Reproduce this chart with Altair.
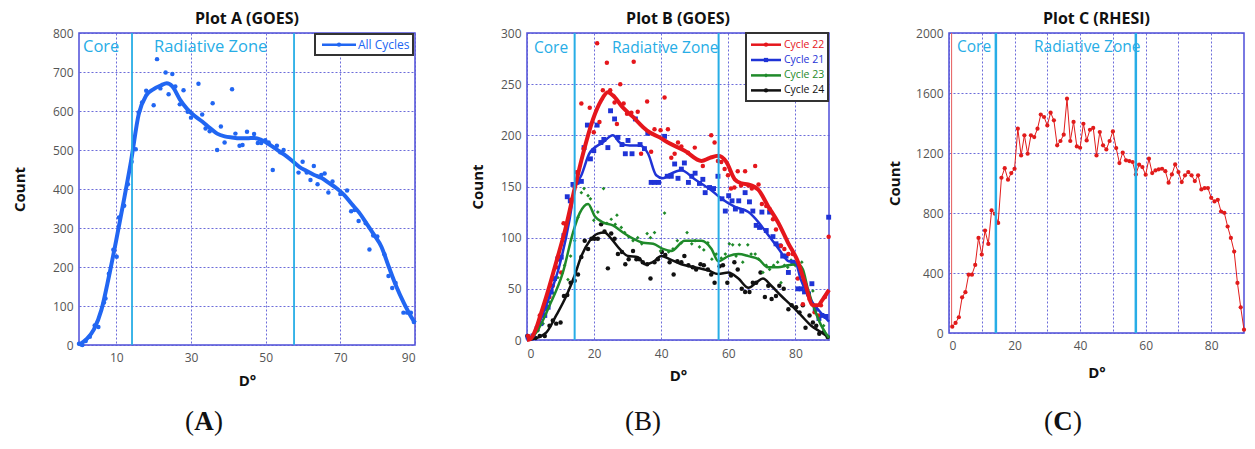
import altair as alt
import pandas as pd

FONT = "Open Sans"
SERIF = "Liberation Serif"
GRID = "#5c5cd6"
FRAME = "#4d4dd9"
CYAN = "#27ade6"
LABEL = "#555555"
DARK = "#111111"

# ---------------- data ----------------
zones_a = [14.2, 57.6]
zones_b = [14.2, 57.1]
zones_c = [14.3, 57.0]

a_points = [(0, 3), (0.9, 0), (1.8, 10), (2.9, 21), (4.2, 50), (5.2, 46), (6.7, 109), (7.1, 119), (8, 183),
            (9.2, 244), (10.1, 226), (10.7, 327), (12.1, 357), (13.1, 412), (14.1, 470), (15.2, 502), (16, 596),
            (16.9, 622), (18, 652), (20, 615), (20.9, 733), (21.8, 658), (23.2, 699), (24, 643), (25, 695),
            (25.8, 663), (27, 617), (28, 653), (29.1, 598), (30, 583), (32, 670), (33, 591), (33.9, 555),
            (35, 548), (35.8, 620), (37, 500), (38, 560), (39, 519), (41, 656), (41.9, 542), (43, 511),
            (43.8, 513), (45, 547), (46.9, 541), (47.9, 518), (48.8, 518), (49.9, 525), (50.8, 519), (51.9, 449),
            (53, 511), (53.9, 494), (54.8, 500), (58.8, 442), (59.9, 470), (61, 442), (62, 423), (62.9, 459),
            (63.9, 412), (64.9, 436), (65.8, 440), (66.8, 391), (67.9, 419), (70, 387), (71.8, 396), (72.9, 343),
            (73.8, 346), (74.9, 318), (76.8, 312), (77.8, 245), (78.8, 281), (79.9, 278), (81.8, 233), (82.9, 177),
            (83.9, 146), (84.8, 159), (86.9, 83), (87.9, 83), (88.9, 83), (89.7, 59)]
a_curve = [(0, 0), (2, 15), (4, 40), (6, 90), (8, 175), (10, 270), (12, 370), (14, 475), (16, 592), (18, 640),
           (20, 656), (22, 666), (23.5, 671), (25, 663), (27, 630), (29, 605), (31, 587), (33, 573), (35, 557),
           (37, 542), (39, 535), (41, 532), (43, 530), (45, 530), (47, 531), (49, 525), (51, 514), (53, 501),
           (55, 488), (57, 473), (59, 457), (61, 446), (63, 436), (65, 428), (67, 415), (69, 402), (71, 385),
           (73, 362), (75, 340), (77, 312), (79, 283), (81, 252), (83, 200), (85, 150), (87, 108), (89, 72), (90, 57)]

b_red_curve = [(0, 0), (1, 1), (2.8, 12), (3.8, 22), (6, 45), (8.7, 76), (11.7, 112), (14.2, 148), (16.7, 182),
               (19.7, 216), (22.1, 234), (24.1, 242), (25.6, 239), (28.6, 227), (31.6, 218), (34.6, 208),
               (36.5, 203), (39.5, 198), (42, 193), (47, 185), (52, 175), (54.5, 178), (57, 180), (59.4, 174),
               (61.9, 157), (64, 153), (65.9, 152), (68.9, 147), (71.8, 131), (74.8, 115), (77.8, 95), (80.8, 76),
               (82.8, 56), (85.2, 34), (86.7, 34), (88.2, 40), (90, 49)]
b_blue_curve = [(0, 0), (1, 1), (2.8, 11), (6.75, 43), (9.7, 73), (12.7, 118), (14.2, 148), (16.2, 161),
                (18.7, 183), (22.6, 193), (25.6, 200), (27.6, 193), (30.6, 190), (33.6, 190), (36.1, 182),
                (38.5, 161), (40.5, 158), (42.5, 162), (46, 166), (50, 157), (55, 146), (58, 138), (62, 130),
                (66, 125), (69, 115), (72, 102), (75, 89), (78, 77), (80, 76), (81.5, 60), (84, 42), (86.7, 30),
                (90, 18)]
b_green_curve = [(0, 0), (1, 1), (2.8, 7.5), (6.75, 34), (10.7, 66), (13.7, 105), (15.7, 124), (18.2, 133),
                 (20.2, 121), (22.6, 115), (25.6, 112), (28.6, 105), (31.6, 99), (34.6, 95), (37.6, 94),
                 (40.5, 89), (43, 87), (47, 97), (52, 97), (55, 89), (57, 77), (60, 82), (63, 84), (66, 82),
                 (69, 79), (71.8, 71), (74.8, 71), (77.8, 73), (80.8, 74), (82.2, 69), (83.7, 50), (85.7, 30),
                 (87.7, 14), (90, 2)]
b_black_curve = [(0, 0), (1.8, 1), (5.8, 7.5), (8.7, 24), (11.7, 43), (14.2, 63), (16.2, 82), (18.7, 97),
                 (21.1, 104), (23.1, 105), (25.1, 99), (27.6, 89), (30.1, 82), (33.1, 81), (35.1, 74), (37.5, 76),
                 (40, 82), (42.5, 79), (46, 74), (50, 71), (54, 68), (57, 64.5), (60, 66), (63, 60), (66, 51),
                 (68.3, 56), (70.3, 60), (72.8, 53), (75.8, 43), (78.7, 34), (81.7, 24), (84.7, 14), (87.7, 7.5),
                 (90, 2)]

b_red_pts = [(0.3, 4), (3.8, 24), (6.7, 42), (7.7, 53), (8.7, 71), (9.2, 81), (10.2, 66), (10.9, 114), (11.7, 112),
             (13.2, 137), (14.7, 164), (16.2, 231), (16.9, 187), (18.7, 227), (19.9, 203), (20.9, 290), (21.6, 213),
             (22.6, 244), (23.8, 271), (24.8, 244), (26.1, 232), (26.8, 211), (27.8, 250), (28.8, 231), (29.8, 221),
             (31.1, 222), (31.8, 272), (33, 223), (34, 182), (35.8, 233), (37, 184), (38, 206), (39.8, 205),
             (41, 237), (42, 206), (43, 178), (44, 182), (45, 193), (46, 189), (48, 183), (50, 188), (52.4, 170),
             (54.9, 200), (55.9, 193), (56.9, 175), (57.9, 174), (58.9, 167), (59.9, 161), (60.8, 148), (61.8, 149),
             (62.8, 165), (63.8, 151), (65, 165), (66, 151), (67, 148), (68, 170), (69, 152), (70, 133), (71.3, 131),
             (72.3, 128), (73.3, 118), (74.2, 108), (75.7, 92), (76.7, 89), (77.9, 84), (79.2, 84), (80.7, 60),
             (82.2, 35), (84.2, 40), (85.7, 27), (86.7, 24), (87.6, 34), (88.8, 42), (89.9, 101)]
b_blue_pts = [(0.3, 3), (1.8, 4), (3, 11), (4.1, 16), (5.3, 24), (6.3, 32), (7.2, 47), (8.2, 60), (9.2, 79),
              (10.2, 81), (11, 102), (12, 140), (12.9, 136), (13.7, 152), (14.9, 154), (16.2, 155), (17, 188),
              (18, 210), (18.9, 177), (19.9, 185), (20.9, 210), (22, 193), (22.9, 196), (24.1, 188), (24.9, 224),
              (26.1, 216), (27.1, 198), (28.3, 191), (29.3, 182), (30.1, 195), (31.3, 182), (32.3, 216), (33.7, 191),
              (35, 187), (36, 202), (37, 154), (38, 154), (39.2, 154), (41, 199), (41.8, 160), (43, 160), (44, 172),
              (45, 158), (46, 167), (46.9, 173), (48.1, 154), (49.1, 160), (50.1, 163), (51.4, 153), (52.4, 157),
              (53.1, 144), (54.4, 149), (55.6, 148), (56.9, 160), (58.1, 138), (59.1, 126), (60.1, 141), (61.1, 136),
              (62.1, 128), (63.1, 136), (64, 126), (65, 144), (66.3, 135), (67.3, 126), (68.3, 112), (69.3, 110),
              (70, 125), (71.3, 107), (72.3, 125), (73.3, 101), (74.2, 94), (75.2, 92), (76.2, 82), (77.2, 82),
              (77.9, 66), (79.2, 76), (80.7, 50), (81.7, 50), (82.7, 47), (83.9, 45), (84.9, 55), (85.9, 30),
              (87, 21), (87.9, 24), (89.1, 23), (89.9, 120)]
b_green_pts = [(0.3, 3), (1.8, 4), (3.3, 9), (4.8, 16), (5.8, 29), (6.7, 37), (7.7, 46), (9.2, 61), (10.4, 65),
               (11.2, 73), (12.2, 59), (13, 82), (14.2, 97), (15.2, 120), (16.2, 144), (17, 148), (18.2, 141),
               (18.9, 138), (19.9, 117), (21.1, 125), (22.8, 148), (23.8, 114), (25.1, 118), (26.3, 113), (26.8, 122),
               (28.1, 110), (29.1, 105), (30.3, 101), (31.6, 97), (33, 100), (34.2, 94), (35.8, 104), (36.8, 100),
               (38, 105), (39.8, 87), (41, 124), (42.2, 86), (43.5, 89), (44.8, 97), (46, 95), (47.7, 105), (49.1, 94),
               (50.1, 97), (51.4, 91), (52.7, 88), (53.9, 95), (55.1, 79), (56.4, 84), (57.9, 80), (59.1, 84),
               (60.3, 94), (61.3, 93), (62.3, 82), (63.3, 93), (64.3, 76), (65.8, 93), (66.8, 84), (68, 84), (69, 79),
               (70.3, 66), (71.3, 73), (72.3, 69), (73.5, 73), (74.7, 76), (75.7, 56), (76.7, 73), (77.7, 71),
               (78.7, 78), (79.9, 73), (80.9, 74), (81.9, 76), (82.9, 52), (84.2, 42), (85.2, 48), (86.2, 30),
               (87.1, 24), (88.4, 14), (89.6, 4)]
b_black_pts = [(0.1, 4), (1.3, 2), (2.5, 2), (3.8, 4), (5.3, 4), (6.7, 14), (7.7, 19), (8.7, 16), (10, 17),
               (11, 43), (12, 44), (13, 56), (14.2, 58), (15.2, 64), (16.2, 81), (17.2, 97), (18.2, 89), (19.2, 99),
               (20.1, 99), (21.1, 99), (22.1, 113), (23.1, 106), (24.1, 70), (25.1, 104), (26.1, 99), (27.1, 84),
               (28.3, 86), (29.3, 74), (30.3, 79), (31.6, 87), (32.6, 79), (33.5, 79), (34.5, 76), (35.8, 74),
               (36.8, 60), (38, 76), (39, 79), (40.2, 86), (41.2, 83), (42.5, 76), (43.7, 64), (44.8, 77), (46, 76),
               (46.9, 82), (48.1, 73), (49.4, 71), (50.4, 69), (51.7, 74), (52.7, 73), (53.9, 69), (54.9, 64),
               (55.9, 56), (57.4, 72), (58.4, 73), (59.7, 56), (60.8, 63), (61.8, 76), (62.8, 69), (64, 50), (65, 47),
               (66.3, 47), (67.3, 56), (68.3, 56), (69.6, 66), (70.9, 42), (71.9, 53), (72.9, 40), (74.2, 43),
               (75.2, 53), (76.5, 50), (77.9, 30), (78.9, 34), (80.2, 32), (81.2, 27), (82.2, 34), (83, 12),
               (84.2, 24), (85.2, 17), (86.2, 14), (87.1, 6), (88.4, 7.5), (89.6, 3)]

c_deg = list(range(1, 91))
c_count = [42, 67, 105, 238, 272, 389, 389, 454, 634, 523, 683, 594, 817, 795, 734, 1035, 1099, 1022, 1066, 1095,
           1362, 1184, 1318, 1195, 1318, 1306, 1362, 1456, 1440, 1384, 1469, 1418, 1251, 1280, 1322, 1562, 1280,
           1407, 1244, 1235, 1395, 1284, 1355, 1367, 1184, 1340, 1251, 1224, 1280, 1344, 1233, 1133, 1202, 1151,
           1146, 1140, 1057, 1122, 1106, 1055, 1162, 1066, 1084, 1091, 1095, 1079, 1002, 1057, 1124, 1073, 1006,
           1051, 1073, 1051, 1013, 1051, 957, 966, 966, 901, 877, 888, 810, 801, 710, 634, 543, 334, 171, 22]
c_spike = [(0.8, 42), (0.8, 2000)]

legend_a = ["All Cycles"]
legend_b = ["Cycle 22", "Cycle 21", "Cycle 23", "Cycle 24"]

BLUE_A = "#2166f2"
COL_B = {"Cycle 22": "#e5161c", "Cycle 21": "#1f33d6", "Cycle 23": "#1f8a2a", "Cycle 24": "#111111"}
RED_C = "#e11b1b"


def X(values, label_expr=None, lab_pad=7, title_pad=10):
    kw = dict(values=values, title="D°", format="d", ticks=False, domain=False, grid=True,
              gridColor=GRID, gridDash=[2, 2], gridWidth=1, gridOpacity=0.9,
              labelFont=FONT, labelFontSize=12, labelColor=LABEL, labelPadding=lab_pad,
              titleFont=FONT, titleFontSize=15, titleFontWeight="bold", titleColor=DARK,
              titlePadding=title_pad)
    if label_expr:
        kw["labelExpr"] = label_expr
    return alt.X("x:Q", scale=alt.Scale(domain=[0, 90], nice=False, zero=False), axis=alt.Axis(**kw))


def Y(domain, values, title_pad=16):
    ax = alt.Axis(values=values, title="Count", format="d", ticks=False, domain=False, grid=True,
                  gridColor=GRID, gridDash=[2, 2], gridWidth=1, gridOpacity=0.9,
                  labelFont=FONT, labelFontSize=12, labelColor=LABEL, labelPadding=6,
                  titleFont=FONT, titleFontSize=15, titleFontWeight="bold", titleColor=DARK,
                  titlePadding=title_pad)
    return alt.Y("y:Q", scale=alt.Scale(domain=domain, nice=False), axis=ax)


def one():
    return pd.DataFrame({"k": [0]})


def zone_layers(zones, xenc, core_x, rz_x, base_y, size, rule_w):
    df = pd.DataFrame({"x": zones})
    rules = alt.Chart(df).mark_rule(color=CYAN, strokeWidth=rule_w).encode(x=xenc)
    t1 = alt.Chart(pd.DataFrame({"t": ["Core"]})).mark_text(
        font=FONT, fontSize=size, color=CYAN, align="left", baseline="alphabetic").encode(
        text="t:N", x=alt.value(core_x), y=alt.value(base_y))
    t2 = alt.Chart(pd.DataFrame({"t": ["Radiative Zone"]})).mark_text(
        font=FONT, fontSize=size, color=CYAN, align="left", baseline="alphabetic").encode(
        text="t:N", x=alt.value(rz_x), y=alt.value(base_y))
    return [rules, t1, t2]


def legend_layers(labels, colors, shapes, box, x0, x1, xt, ys, size):
    layers = [alt.Chart(one()).mark_rect(fill="white", stroke="#333333", strokeWidth=2).encode(
        x=alt.value(box[0]), x2=alt.value(box[1]), y=alt.value(box[2]), y2=alt.value(box[3]))]
    for lab, col, shp, yy in zip(labels, colors, shapes, ys):
        layers.append(alt.Chart(one()).mark_rule(color=col, strokeWidth=2.5).encode(
            x=alt.value(x0), x2=alt.value(x1), y=alt.value(yy)))
        layers.append(alt.Chart(one()).mark_point(color=col, filled=True, shape=shp, size=18, opacity=1).encode(
            x=alt.value((x0 + x1) / 2), y=alt.value(yy)))
        layers.append(alt.Chart(pd.DataFrame({"t": [lab]})).mark_text(
            font=FONT, fontSize=size, color=col, align="left", baseline="middle").encode(
            text="t:N", x=alt.value(xt), y=alt.value(yy)))
    return layers


def caption(letter, bold, cx, cy, hw):
    w = "bold" if bold else "normal"
    l1 = alt.Chart(pd.DataFrame({"t": ["("]})).mark_text(font=SERIF, fontSize=27, color=DARK, align="right",
                                                          baseline="middle").encode(
        text="t:N", x=alt.value(cx - hw), y=alt.value(cy))
    l2 = alt.Chart(pd.DataFrame({"t": [letter]})).mark_text(font=SERIF, fontSize=27, color=DARK, align="center",
                                                             baseline="middle", fontWeight=w).encode(
        text="t:N", x=alt.value(cx), y=alt.value(cy))
    l3 = alt.Chart(pd.DataFrame({"t": [")"]})).mark_text(font=SERIF, fontSize=27, color=DARK, align="left",
                                                          baseline="middle").encode(
        text="t:N", x=alt.value(cx + hw), y=alt.value(cy))
    return [l1, l2, l3]


def title(text, offset):
    return alt.Title(text, font=FONT, fontSize=16, fontWeight="bold", color=DARK, offset=offset, anchor="middle")


# ---------------- Panel A ----------------
xa = X([10, 30, 50, 70, 90], lab_pad=7, title_pad=10)
ya = Y([0, 800], list(range(0, 801, 100)), title_pad=25)
dfa_p = pd.DataFrame(a_points, columns=["x", "y"])
dfa_c = pd.DataFrame(a_curve, columns=["x", "y"])
A_layers = [
    alt.Chart(dfa_p).mark_circle(size=20, color=BLUE_A, opacity=1).encode(x=xa, y=ya),
    alt.Chart(dfa_c).mark_line(color=BLUE_A, strokeWidth=4, interpolate="monotone").encode(x=xa, y=ya),
]
A_layers += zone_layers(zones_a, xa, 4, 75, 19, 16.5, 1.8)
A_layers += legend_layers(legend_a, [BLUE_A], ["circle"], (236, 334, 1, 22), 243, 277, 279, [11.7], 12)
A_layers += caption("A", True, 125, 389, 10)
panelA = alt.layer(*A_layers).properties(width=336, height=312, title=title("Plot A (GOES)", 0))

# ---------------- Panel B ----------------
xb = X([0, 20, 40, 60, 80], lab_pad=8, title_pad=9)
yb = Y([0, 300], list(range(0, 301, 50)), title_pad=15)
B_layers = []
pt_specs = {"Cycle 22": ("circle", 20), "Cycle 21": ("square", 24), "Cycle 23": ("diamond", 14),
            "Cycle 24": ("circle", 20)}
line_w = {"Cycle 22": 4, "Cycle 21": 2.5, "Cycle 23": 2.5, "Cycle 24": 2.5}
pts_map = {"Cycle 22": b_red_pts, "Cycle 21": b_blue_pts, "Cycle 23": b_green_pts, "Cycle 24": b_black_pts}
crv_map = {"Cycle 22": b_red_curve, "Cycle 21": b_blue_curve, "Cycle 23": b_green_curve, "Cycle 24": b_black_curve}
for name in ["Cycle 24", "Cycle 23", "Cycle 21", "Cycle 22"]:
    shp, sz = pt_specs[name]
    B_layers.append(alt.Chart(pd.DataFrame(pts_map[name], columns=["x", "y"])).mark_point(
        shape=shp, size=sz, filled=True, color=COL_B[name], opacity=1).encode(x=xb, y=yb))
for name in ["Cycle 24", "Cycle 23", "Cycle 21", "Cycle 22"]:
    B_layers.append(alt.Chart(pd.DataFrame(crv_map[name], columns=["x", "y"])).mark_line(
        color=COL_B[name], strokeWidth=line_w[name], interpolate="monotone").encode(x=xb, y=yb))
B_layers += zone_layers(zones_b, xb, 7, 85, 20, 15.5, 2)
B_layers += legend_layers(legend_b, [COL_B[n] for n in legend_b], ["circle", "square", "diamond", "circle"],
                          (219, 301, 0, 68), 224, 254, 257, [11.7, 27, 42.4, 57.4], 10.5)
B_layers += caption("B", False, 116, 389, 9)
panelB = alt.layer(*B_layers).properties(width=302, height=307, title=title("Plot B (GOES)", 0))

# ---------------- Panel C ----------------
xc = X(list(range(0, 81, 10)), label_expr="datum.value % 20 == 0 ? datum.label : ''", lab_pad=7, title_pad=14)
yc = Y([0, 2000], list(range(0, 2001, 400)), title_pad=13)
dfc = pd.DataFrame({"x": c_deg, "y": c_count})
dfs = pd.DataFrame(c_spike, columns=["x", "y"])
C_layers = [
    alt.Chart(dfs).mark_line(color="#e65a5a", strokeWidth=1, clip=True).encode(x=xc, y=yc),
    alt.Chart(dfc).mark_line(color=RED_C, strokeWidth=1).encode(x=xc, y=yc),
    alt.Chart(dfc).mark_circle(size=18, color=RED_C, opacity=1).encode(x=xc, y=yc),
]
C_layers += zone_layers(zones_c, xc, 8, 85, 19, 15.5, 2.5)
C_layers += caption("C", True, 114, 389, 10)
panelC = alt.layer(*C_layers).properties(width=295, height=300, title=title("Plot C (RHESI)", 0))

chart = alt.hconcat(alt.hconcat(panelA, panelB, spacing=45), panelC, spacing=48).configure_view(
    stroke=FRAME, strokeWidth=1.5).properties(padding={"left": 3, "top": 2, "right": 0, "bottom": 0})

chart.save("out.html", embed_options={"renderer": "svg", "actions": False})
